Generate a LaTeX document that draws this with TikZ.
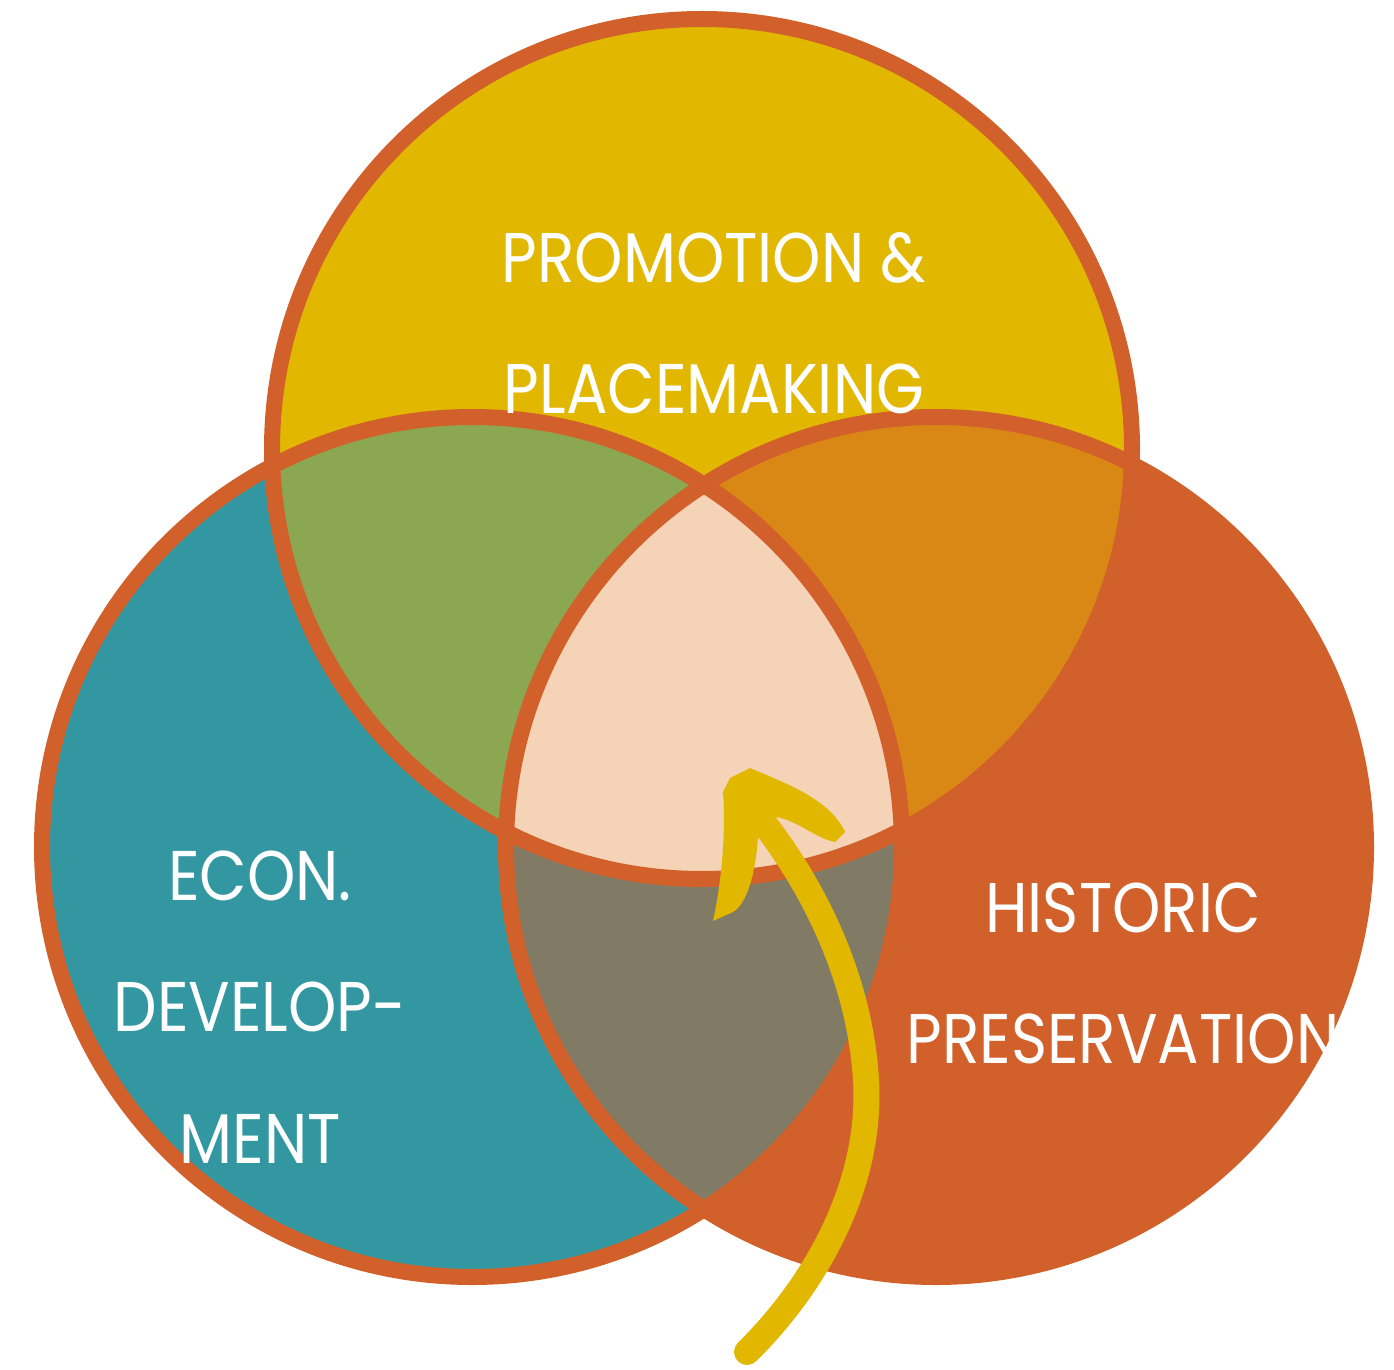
\documentclass[tikz,border=0pt]{standalone}
\usepackage{fontspec}
\setmainfont{Poppins}[FakeStretch=0.875]
\definecolor{promoyellow}{HTML}{E2B700}
\definecolor{econteal}{HTML}{3297A0}
\definecolor{histrust}{HTML}{D2602B}
\definecolor{econpromo}{HTML}{8CA751}
\definecolor{promohist}{HTML}{D98815}
\definecolor{econhist}{HTML}{817A64}
\definecolor{allthree}{HTML}{F4D3B7}

\begin{document}
\begin{tikzpicture}[x=0.01cm,y=-0.01cm]
\useasboundingbox (0,0) rectangle (1394,1370);
\coordinate (Ctop) at (702,449);
\coordinate (Cleft) at (472,847);
\coordinate (Cright) at (936,847);
% single sets
\fill[promoyellow] (Ctop) circle[radius=430];
\fill[econteal] (Cleft) circle[radius=430];
\fill[histrust] (Cright) circle[radius=430];
% overlaps
\begin{scope}
    \clip (Ctop) circle[radius=430];
    \fill[econpromo] (Cleft) circle[radius=430];
    \fill[promohist] (Cright) circle[radius=430];
\end{scope}
\begin{scope}
    \clip (Cleft) circle[radius=430];
    \fill[econhist] (Cright) circle[radius=430];
    \clip (Ctop) circle[radius=430];
    \fill[allthree] (Cright) circle[radius=430];
\end{scope}
\begin{scope}[line width=0.16cm, draw=histrust]
    \draw (Ctop) circle[radius=430];
    \draw (Cleft) circle[radius=430];
    \draw (Cright) circle[radius=430];
\end{scope}
% arrow
\begin{scope}[draw=promoyellow, fill=promoyellow, line cap=round, line join=round]
    \coordinate (tail) at (747,1352);
    \coordinate (shafttop) at (766,826);
    \draw[line width=0.26cm] (tail) .. controls (820,1280) and (872,1180) .. (866,1080)
        .. controls (860,980) and (815,890) .. (shafttop);
    \fill (713,921) .. controls (722,880) and (726,830) .. (723,792) -- (730,778)
        -- (750,768) .. controls (790,785) and (830,800) .. (845,832)
        -- (835,842) .. controls (815,838) and (800,822) .. (777,817)
        -- (758,837) .. controls (755,880) and (745,905) .. (733,912) -- cycle;
\end{scope}
% labels
\begin{scope}[every node/.style={text=white, align=center,
              font=\fontsize{20}{37.3}\selectfont}]
    \node (promo) at (714,323) {PROMOTION \&\\PLACEMAKING};
    \node (econ) at (260,1007) {ECON.\\DEVELOP-\\MENT};
    \node (hist) at (1123,973) {HISTORIC\\PRESERVATION};
\end{scope}
\end{tikzpicture}
\end{document}
